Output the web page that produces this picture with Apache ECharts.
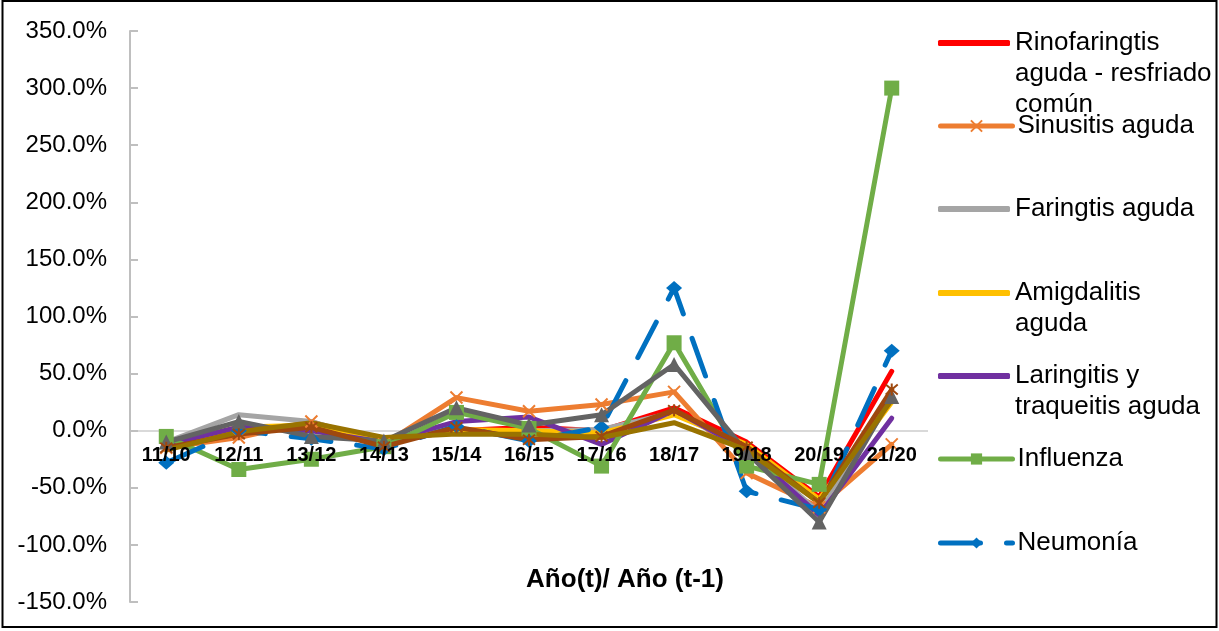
<!DOCTYPE html>
<html>
<head>
<meta charset="utf-8">
<script src="https://cdn.jsdelivr.net/npm/echarts@6/dist/echarts.min.js"></script>
<style>html,body{margin:0;padding:0;background:#fff}#c{width:1219px;height:631px}</style>
</head>
<body>
<div id="c"></div>
<script>
var categories = ['11/10','12/11','13/12','14/13','15/14','16/15','17/16','18/17','19/18','20/19','21/20'];
var yTicks = {min: -150, max: 350, interval: 50};

var rinofaringitis = [-12, 0, 3, -10, 0, 3, 0, 20, -10, -58, 52];
var sinusitis      = [-15, -6, 8, -12, 29, 17, 23, 34, -37, -67, -12];
var faringitis     = [-10, 14, 8, -10, 0, 0, 1, 16, -15, -72, 28];
var amigdalitis    = [-12, 3, 5, -8, 1, 0, -2, 14, -12, -60, 25];
var laringitis     = [-12, 3, 0, -10, 8, 12, -12, 18, -17, -74, 11];
var influenza      = [-5, -34, -25, -14, 16, 2, -31, 77, -31, -47, 300];
var neumonia       = [-28, 0, -7, -16, 4, -9, 3, 125, -53, -69, 70];
var otraGris       = [-10, 8, -5, -9, 20, 5, 14, 58, -19, -80, 30];
var otraMarron     = [-15, -3, 3, -14, 3, -8, -5, 18, -14, -63, 36];
var otraOliva      = [-17, -1, 7, -6, -3, -3, -6, 7, -17, -63, 27];

var names = ['Rinofaringtis aguda - resfriado común','Sinusitis aguda','Faringtis aguda','Amigdalitis aguda','Laringitis y traqueitis aguda','Influenza','Neumonía','Bronquitis aguda','Bronquiolitis aguda','Otras IRA'];
var legendLabels = ['Rinofaringtis\naguda - resfriado\ncomún','Sinusitis aguda','Faringtis aguda','Amigdalitis\naguda','Laringitis y\ntraqueitis aguda','Influenza','Neumonía'];

var FONT = 'Arial, "Liberation Sans", sans-serif';
var xPath = 'path://M0,0L10,10M10,0L0,10';
var starPath = 'path://M0,0L10,10M10,0L0,10M5,-1L5,11';

function mk(name, data, color, opt) {
  opt = opt || {};
  return {
    name: name, type: 'line', data: data,
    symbol: opt.symbol || 'none',
    symbolSize: opt.size || 12,
    showSymbol: !!opt.symbol,
    lineStyle: Object.assign({color: color, width: 5, cap: 'round', join: 'round'}, opt.line || {}),
    itemStyle: Object.assign({color: color}, opt.item || {}),
    emphasis: {disabled: true},
    animation: false
  };
}

var series = [
  mk(names[0], rinofaringitis, '#FF0000'),
  mk(names[1], sinusitis, '#ED7D31', {symbol: xPath, size: 12, item: {color: 'none', borderColor: '#ED7D31', borderWidth: 2}}),
  mk(names[2], faringitis, '#A5A5A5'),
  mk(names[3], amigdalitis, '#FFC000'),
  mk(names[4], laringitis, '#7030A0'),
  mk(names[5], influenza, '#70AD47', {symbol: 'rect', size: 15}),
  mk(names[6], neumonia, '#0070C0', {symbol: 'diamond', size: [16, 14], line: {type: [40, 26]}}),
  mk(names[7], otraGris, '#636363', {symbol: 'triangle', size: 15}),
  mk(names[8], otraMarron, '#9E480E', {symbol: starPath, size: 12, item: {color: 'none', borderColor: '#9E480E', borderWidth: 2}}),
  mk(names[9], otraOliva, '#997300')
];

var hasSymbol = [false, true, false, false, false, true, true];
var legendCenters = [43, 126, 209, 293, 376, 459, 543];
var LH = 31;
var legends = legendLabels.map(function (lbl, i) {
  var n = lbl.split('\n').length;
  var ih = hasSymbol[i] ? 14 : 6;
  var boxH = Math.max(ih, (2 * n - 1) * LH);
  var txt = new Array(n).join('\n') + lbl;
  var lg = {
    data: [names[i]],
    orient: 'vertical',
    left: 938,
    top: legendCenters[i] - boxH / 2,
    padding: 0,
    itemWidth: 72,
    itemHeight: ih,
    selectedMode: false,
    lineStyle: {width: 5},
    formatter: function () { return txt; },
    textStyle: {fontFamily: FONT, fontSize: 26, color: '#000', lineHeight: LH}
  };
  if (!hasSymbol[i]) { lg.icon = 'roundRect'; }
  return lg;
});

// zero line only: split line colours cycle per tick (-150 ... 350)
var splitColors = [];
for (var v = yTicks.min; v <= yTicks.max; v += yTicks.interval) { splitColors.push(v === 0 ? '#D9D9D9' : 'rgba(0,0,0,0)'); }

var chart = echarts.init(document.getElementById('c'), null, {renderer: 'canvas'});
chart.setOption({
  backgroundColor: '#fff',
  animation: false,
  grid: {left: 130, right: 291, top: 31, bottom: 29, containLabel: false, outerBoundsMode: 'none'},
  legend: legends,
  graphic: [{type: 'rect', shape: {x: 2.5, y: 1, width: 1214, height: 626}, style: {fill: 'none', stroke: '#000', lineWidth: 2}, silent: true}],
  xAxis: {
    type: 'category', data: categories, boundaryGap: true,
    position: 'bottom', offset: -171, z: 10,
    axisLine: {show: false, onZero: false},
    axisTick: {show: false},
    axisLabel: {interval: 0, margin: 14, fontFamily: FONT, fontSize: 20, fontWeight: 'bold', color: '#000'},
    splitLine: {show: false},
    name: 'Año(t)/ Año (t-1)', nameLocation: 'middle', nameGap: 136,
    nameTextStyle: {fontFamily: FONT, fontSize: 26, fontWeight: 'bold', color: '#000', padding: [0, 0, 0, 192]}
  },
  yAxis: {
    type: 'value', min: yTicks.min, max: yTicks.max, interval: yTicks.interval,
    axisLine: {show: true, lineStyle: {color: '#BFBFBF', width: 2}},
    axisTick: {show: true, inside: true, length: 8, lineStyle: {color: '#BFBFBF', width: 2}},
    axisLabel: {margin: 23, fontFamily: FONT, fontSize: 24, color: '#000', formatter: function (v) { return v.toFixed(1) + '%'; }},
    splitLine: {show: true, lineStyle: {color: splitColors, width: 2}}
  },
  series: series
});
</script>
</body>
</html>
